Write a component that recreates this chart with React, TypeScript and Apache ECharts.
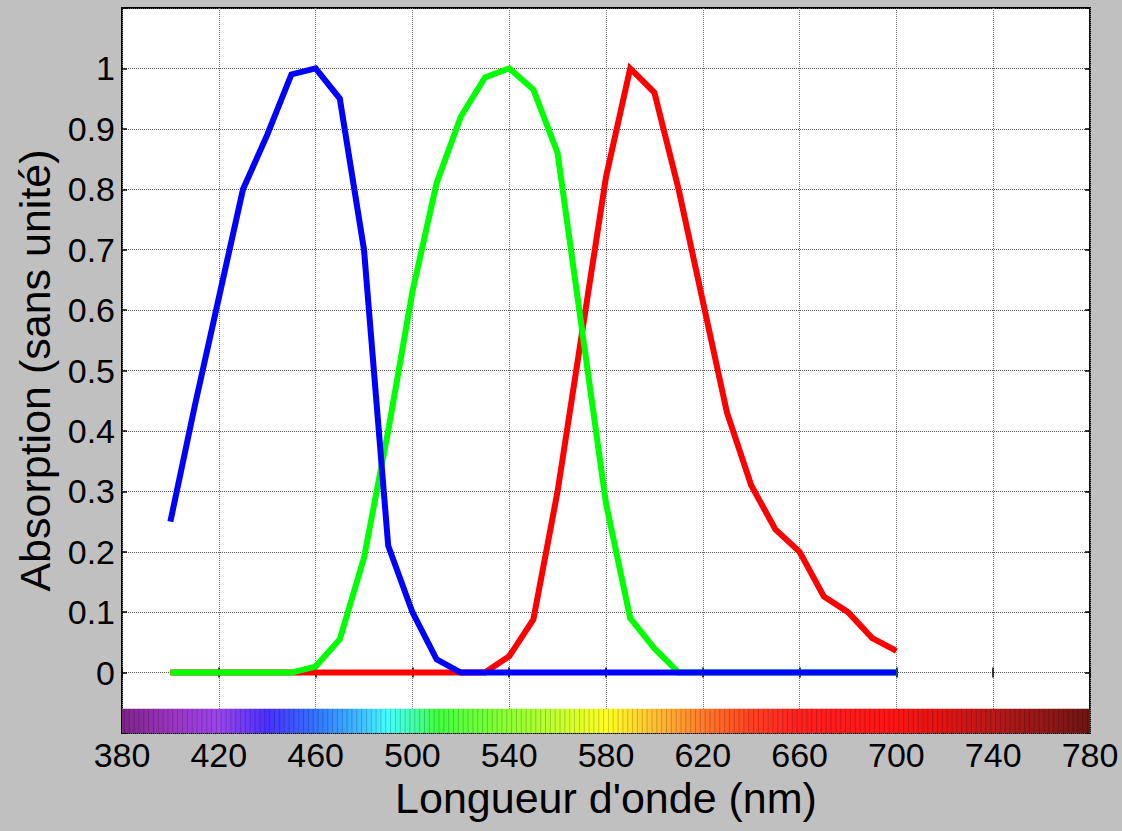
import React, { useEffect, useRef } from "react";
import * as echarts from "echarts";

// Wavelengths (nm) at which the absorption curves are sampled
const WAVELENGTHS = [
  400, 410, 420, 430, 440, 450, 460, 470, 480, 490, 500, 510, 520, 530, 540, 550,
  560, 570, 580, 590, 600, 610, 620, 630, 640, 650, 660, 670, 680, 690, 700,
];

const BLUE = [
  0.25, 0.44, 0.62, 0.8, 0.89, 0.99, 1.0, 0.95, 0.7, 0.21, 0.1, 0.022, 0, 0, 0, 0,
  0, 0, 0, 0, 0, 0, 0, 0, 0, 0, 0, 0, 0, 0, 0,
];

const GREEN = [
  0, 0, 0, 0, 0, 0, 0.01, 0.055, 0.19, 0.4, 0.63, 0.81, 0.92, 0.985, 1.0, 0.965,
  0.86, 0.57, 0.28, 0.09, 0.04, 0, 0, 0, 0, 0, 0, 0, 0, 0, 0,
];

const RED = [
  0, 0, 0, 0, 0, 0, 0, 0, 0, 0, 0, 0, 0, 0, 0.027, 0.088,
  0.3, 0.56, 0.82, 1.0, 0.96, 0.8, 0.615, 0.43, 0.31, 0.237, 0.2, 0.126, 0.1, 0.057, 0.036,
];

// Visible spectrum colour stops (wavelength nm, colour) for the band under the plot
const SPECTRUM_STOPS: [number, string][] = [
  [380, "#7e2488"],
  [400, "#9a34c0"],
  [420, "#9a44ec"],
  [440, "#4a30ff"],
  [460, "#3074ff"],
  [480, "#40c4ff"],
  [490, "#44ffff"],
  [500, "#40ffb0"],
  [510, "#40ff40"],
  [540, "#8cff30"],
  [560, "#c4ff30"],
  [580, "#ffff20"],
  [600, "#ffc034"],
  [620, "#ff7a2a"],
  [640, "#ff4020"],
  [660, "#ff2020"],
  [700, "#ff1414"],
  [720, "#e01414"],
  [740, "#b81818"],
  [760, "#941818"],
  [780, "#6e1414"],
];
const SPECTRUM_RANGE = [380, 780];
const SPECTRUM_Y = [-0.1, -0.06];

const X_MIN = 380;
const X_MAX = 780;
const X_STEP = 40;
const Y_MIN = -0.1;
const Y_MAX = 1.1;
const Y_STEP = 0.1;

const FONT = "'Liberation Sans', Arial, Helvetica, sans-serif";

export default function App() {
  const ref = useRef<HTMLDivElement>(null);

  useEffect(() => {
    if (!ref.current) return;
    const chart = echarts.init(ref.current, undefined, { renderer: "svg" });

    const pairs = (ys: number[]) => WAVELENGTHS.map((w, i) => [w, ys[i]]);

    const yFormatter = (v: number) => {
      const r = Math.round(v * 10) / 10;
      if (r < -0.001 || r > 1.001) return "";
      return String(r);
    };

    const lineSeries = (name: string, ys: number[], color: string) => ({
      type: "line",
      name,
      data: pairs(ys),
      symbol: "none",
      lineStyle: { color, width: 6, cap: "butt", join: "miter" },
      z: 3,
    });

    const option: any = {
      animation: false,
      backgroundColor: "#c0c0c0",
      textStyle: { fontFamily: FONT },
      grid: {
        left: 122,
        right: 32,
        top: 8,
        bottom: 98,
        show: true,
        backgroundColor: "#ffffff",
        borderColor: "#000000",
        borderWidth: 2,
      },
      xAxis: [
        {
          type: "value",
          min: X_MIN,
          max: X_MAX,
          interval: X_STEP,
          position: "bottom",
          name: "Longueur d'onde (nm)",
          nameLocation: "middle",
          nameGap: 42,
          nameTextStyle: { fontSize: 43, color: "#000", fontFamily: FONT },
          axisLine: { show: false },
          axisTick: { show: true, inside: true, length: 5, lineStyle: { color: "#000", width: 1.5 } },
          axisLabel: { fontSize: 34, color: "#000", margin: 5, fontFamily: FONT },
          splitLine: { show: true, lineStyle: { color: "#777", type: "dotted", width: 1 } },
        },
        {
          type: "value",
          min: X_MIN,
          max: X_MAX,
          interval: X_STEP,
          position: "top",
          axisLine: { show: false },
          axisTick: { show: true, inside: true, length: 5, lineStyle: { color: "#000", width: 1.5 } },
          axisLabel: { show: false },
          splitLine: { show: false },
        },
      ],
      yAxis: [
        {
          type: "value",
          min: Y_MIN,
          max: Y_MAX,
          interval: Y_STEP,
          position: "left",
          name: "Absorption (sans unité)",
          nameLocation: "middle",
          nameGap: 66,
          nameTextStyle: { fontSize: 43, color: "#000", fontFamily: FONT },
          axisLine: { show: false },
          axisTick: { show: true, inside: true, length: 5, lineStyle: { color: "#000", width: 1.5 } },
          axisLabel: { fontSize: 34, color: "#000", margin: 7, formatter: yFormatter, fontFamily: FONT },
          splitLine: { show: true, lineStyle: { color: "#555", type: "dotted", width: 1 } },
        },
        {
          type: "value",
          min: Y_MIN,
          max: Y_MAX,
          interval: Y_STEP,
          position: "right",
          axisLine: { show: false },
          axisTick: { show: true, inside: true, length: 5, lineStyle: { color: "#000", width: 1.5 } },
          axisLabel: { show: false },
          splitLine: { show: false },
        },
      ],
      series: [
        {
          type: "custom",
          name: "spectre",
          coordinateSystem: "cartesian2d",
          data: [[SPECTRUM_RANGE[0], SPECTRUM_RANGE[1]]],
          z: 4,
          silent: true,
          renderItem: (params: any, api: any) => {
            const x0 = api.value(0);
            const x1 = api.value(1);
            const pTop = api.coord([x0, SPECTRUM_Y[1]]);
            const pBot = api.coord([x1, SPECTRUM_Y[0]]);
            const span = x1 - x0;
            const gradient = new echarts.graphic.LinearGradient(
              0, 0, 1, 0,
              SPECTRUM_STOPS.map(([w, c]) => ({ offset: (w - x0) / span, color: c }))
            );
            const children: any[] = [
              {
                type: "rect",
                shape: { x: pTop[0], y: pTop[1], width: pBot[0] - pTop[0], height: pBot[1] - pTop[1] },
                style: { fill: gradient },
              },
            ];
            // thin stripes, one every 2 nm, to imitate the striped patch rendering
            for (let w = x0 + 1; w < x1; w += 2) {
              const px = api.coord([w, SPECTRUM_Y[0]])[0];
              children.push({
                type: "line",
                shape: { x1: px, y1: pTop[1], x2: px, y2: pBot[1] },
                style: { stroke: "rgba(0,0,0,0.2)", lineWidth: 1 },
              });
            }
            return { type: "group", children };
          },
        },
        lineSeries("rouge", RED, "#ff0000"),
        lineSeries("vert", GREEN, "#00ff00"),
        lineSeries("bleu", BLUE, "#0000ff"),
      ],
    };

    chart.setOption(option);
    return () => chart.dispose();
  }, []);

  return (
    <div
      ref={ref}
      style={{ position: "absolute", left: 0, top: 0, width: 1122, height: 831 }}
    />
  );
}
